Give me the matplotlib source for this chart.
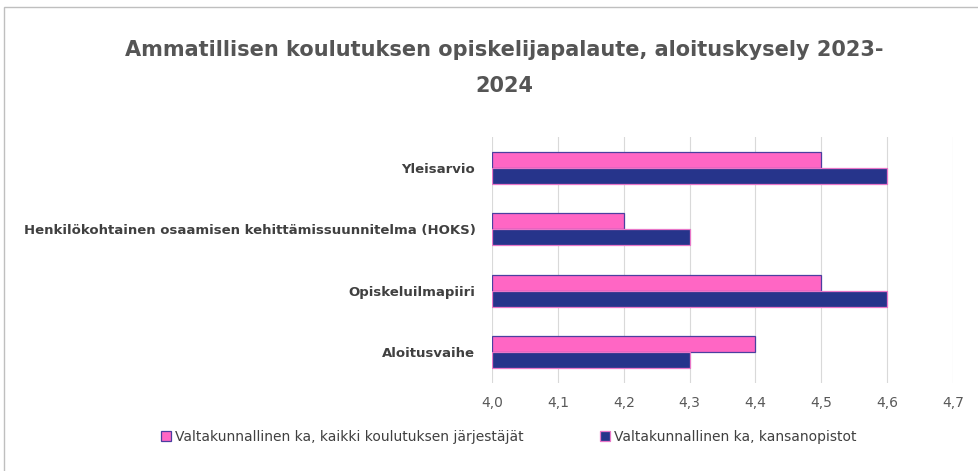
import matplotlib.pyplot as plt
from matplotlib.patches import Rectangle
import numpy as np

categories = ['Yleisarvio',
              'Henkilökohtainen osaamisen kehittämissuunnitelma (HOKS)',
              'Opiskeluilmapiiri',
              'Aloitusvaihe']
kaikki = [4.5, 4.2, 4.5, 4.4]
kansanopistot = [4.6, 4.3, 4.6, 4.3]
series_names = ['Valtakunnallinen ka, kaikki koulutuksen järjestäjät',
                'Valtakunnallinen ka, kansanopistot']
xticks = [4.0, 4.1, 4.2, 4.3, 4.4, 4.5, 4.6, 4.7]

pink = '#FF66C4'
navy = '#26348B'

fig = plt.figure(figsize=(9.79, 4.71), dpi=100)
ax = fig.add_axes([0.5026, 0.1868, 0.4709, 0.5223])

y = np.arange(len(categories))
h = 0.26
base = 4.0
ax.barh(y - h / 2, np.array(kaikki) - base, left=base, height=h, color=pink,
        edgecolor='#4B3FA0', linewidth=0.9, label=series_names[0], zorder=3)
ax.barh(y + h / 2, np.array(kansanopistot) - base, left=base, height=h, color=navy,
        edgecolor='#E877C8', linewidth=0.9, label=series_names[1], zorder=3)

ax.set_xlim(4.0, 4.7)
ax.set_ylim(len(categories) - 0.5, -0.5)
ax.set_xticks(xticks)
ax.set_xticklabels([f'{v:.1f}'.replace('.', ',') for v in xticks])
ax.set_yticks(y)
ax.set_yticklabels(categories, fontsize=9.5, fontweight='bold', color='#404040')
ax.tick_params(axis='x', length=0, pad=9.5, labelsize=10, colors='#595959')
ax.tick_params(axis='y', length=0, pad=12)
ax.grid(axis='x', color='#D9D9D9', linewidth=0.8, zorder=0)
for s in ax.spines.values():
    s.set_visible(False)

fig.text(0.515, 0.855, 'Ammatillisen koulutuksen opiskelijapalaute, aloituskysely 2023-\n2024',
         ha='center', va='center', fontsize=15, fontweight='bold', color='#555555',
         linespacing=2.0)

fig.legend(loc='center', bbox_to_anchor=(0.52, 0.072), ncol=2, frameon=False,
           fontsize=10, handlelength=0.7, handleheight=0.7, handletextpad=0.3,
           columnspacing=5.5, labelcolor='#404040')

fig.patches.append(Rectangle((4 / 979, -0.05), 1.2, 1 - 7 / 471 + 0.05,
                             transform=fig.transFigure, fill=False,
                             edgecolor='#BFBFBF', linewidth=1))

fig.savefig('out.png', dpi=100)
